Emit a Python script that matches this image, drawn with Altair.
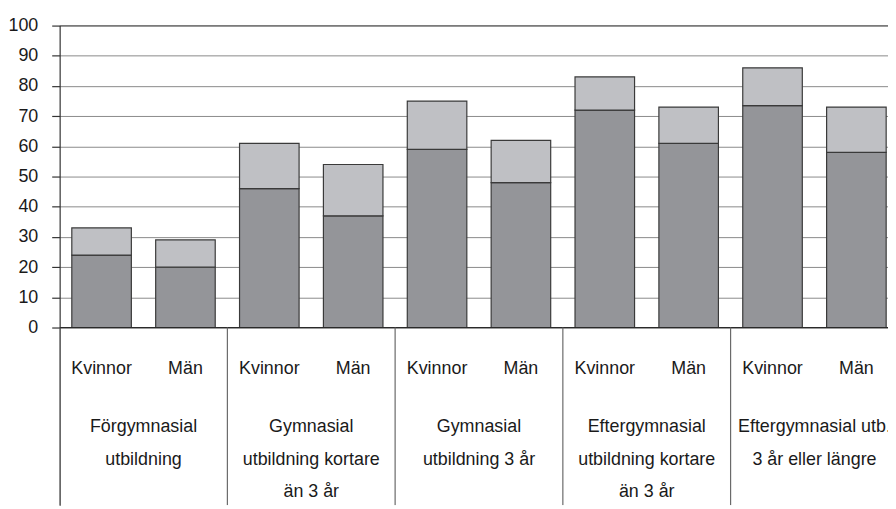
import altair as alt
import pandas as pd

# ---- data ----
group_lines = [
    ["Förgymnasial", "utbildning"],
    ["Gymnasial", "utbildning kortare", "än 3 år"],
    ["Gymnasial", "utbildning 3 år"],
    ["Eftergymnasial", "utbildning kortare", "än 3 år"],
    ["Eftergymnasial utb.", "3 år eller längre"],
]
sexes = ["Kvinnor", "Män"]
lower = [24, 20, 46, 37, 59, 48, 72, 61, 73.5, 58]     # dark segment
upper = [9, 9, 15, 17, 16, 14, 11, 12, 12.5, 15]       # light segment on top
y_ticks = list(range(0, 101, 10))

# ---- layout / style ----
FONT = "Liberation Sans, Arial, Helvetica"
PLOT_W = 834
PLOT_H = 483
BAND_PX = 84.44
PX_PER_UNIT = 3.04
XMAX = PLOT_W / BAND_PX
YMIN = 100 - PLOT_H / PX_PER_UNIT
DARK = "#949599"
LIGHT = "#bfc0c4"
EDGE = "#3a3a3a"

rows = []
for i, (lo, up) in enumerate(zip(lower, upper)):
    rows.append({"pos": i, "sex": sexes[i % 2], "group": i // 2, "lower": lo, "upper": up})
bars = pd.DataFrame(rows)
groups = pd.DataFrame({"g": list(range(len(group_lines))), "lines": group_lines})
dividers = pd.DataFrame({"d": [2 * g for g in range(len(group_lines) + 1)]})
frame = pd.DataFrame({"v": [0, 100]})

xs = alt.Scale(domain=[0, XMAX], nice=False, zero=False)
ys = alt.Scale(domain=[YMIN, 100], nice=False, zero=False)

base = alt.Chart(bars).transform_calculate(
    x0="datum.pos + 0.145", x1="datum.pos + 0.855",
    total="datum.lower + datum.upper", zero="0",
)

low_bars = base.mark_rect(fill=DARK, stroke=EDGE, strokeWidth=1.2, clip=True).encode(
    x=alt.X("x0:Q", scale=xs, axis=None),
    x2="x1:Q",
    y=alt.Y("zero:Q", scale=ys, axis=alt.Axis(
        values=y_ticks, grid=True, gridColor="#8a8a8a", gridWidth=1,
        domainColor="#333333", domainWidth=1.2, tickColor="#333333", tickSize=8,
        tickWidth=1.2, labelFont=FONT, labelFontSize=18, labelColor="#1a1a1a",
        labelPadding=14, title=None)),
    y2="lower:Q",
)
up_bars = base.mark_rect(fill=LIGHT, stroke=EDGE, strokeWidth=1.2, clip=True).encode(
    x=alt.X("x0:Q", scale=xs), x2="x1:Q",
    y=alt.Y("lower:Q", scale=ys), y2="total:Q",
)

frame_rules = alt.Chart(frame).mark_rule(color="#2a2a2a", strokeWidth=1.3, clip=True).encode(
    y=alt.Y("v:Q", scale=ys),
)

div_rules = alt.Chart(dividers).mark_rule(color="#6a6a6a", strokeWidth=1.2, clip=True).encode(
    x=alt.X("d:Q", scale=xs),
    y=alt.datum(0),
    y2=alt.datum(YMIN),
)

sex_text = base.transform_calculate(cx="datum.pos + 0.5").mark_text(
    font=FONT, fontSize=18, color="#1a1a1a", baseline="alphabetic", align="center", clip=True
).encode(
    x=alt.X("cx:Q", scale=xs),
    y=alt.value(351),
    text="sex:N",
)

group_text = alt.Chart(groups).transform_calculate(cx="datum.g * 2 + 1").mark_text(
    font=FONT, fontSize=18, color="#1a1a1a", baseline="alphabetic", align="center",
    lineHeight=33, clip=True
).encode(
    x=alt.X("cx:Q", scale=xs),
    y=alt.value(409),
    text="lines",
)

chart = alt.layer(low_bars, up_bars, frame_rules, div_rules, sex_text, group_text).properties(
    width=PLOT_W, height=PLOT_H,
    autosize=alt.AutoSizeParams(type="none"),
    padding={"left": 52, "top": 16, "right": 0, "bottom": 0},
).configure_view(stroke=None)

chart.save("out.html", embed_options={"renderer": "svg", "actions": False})
